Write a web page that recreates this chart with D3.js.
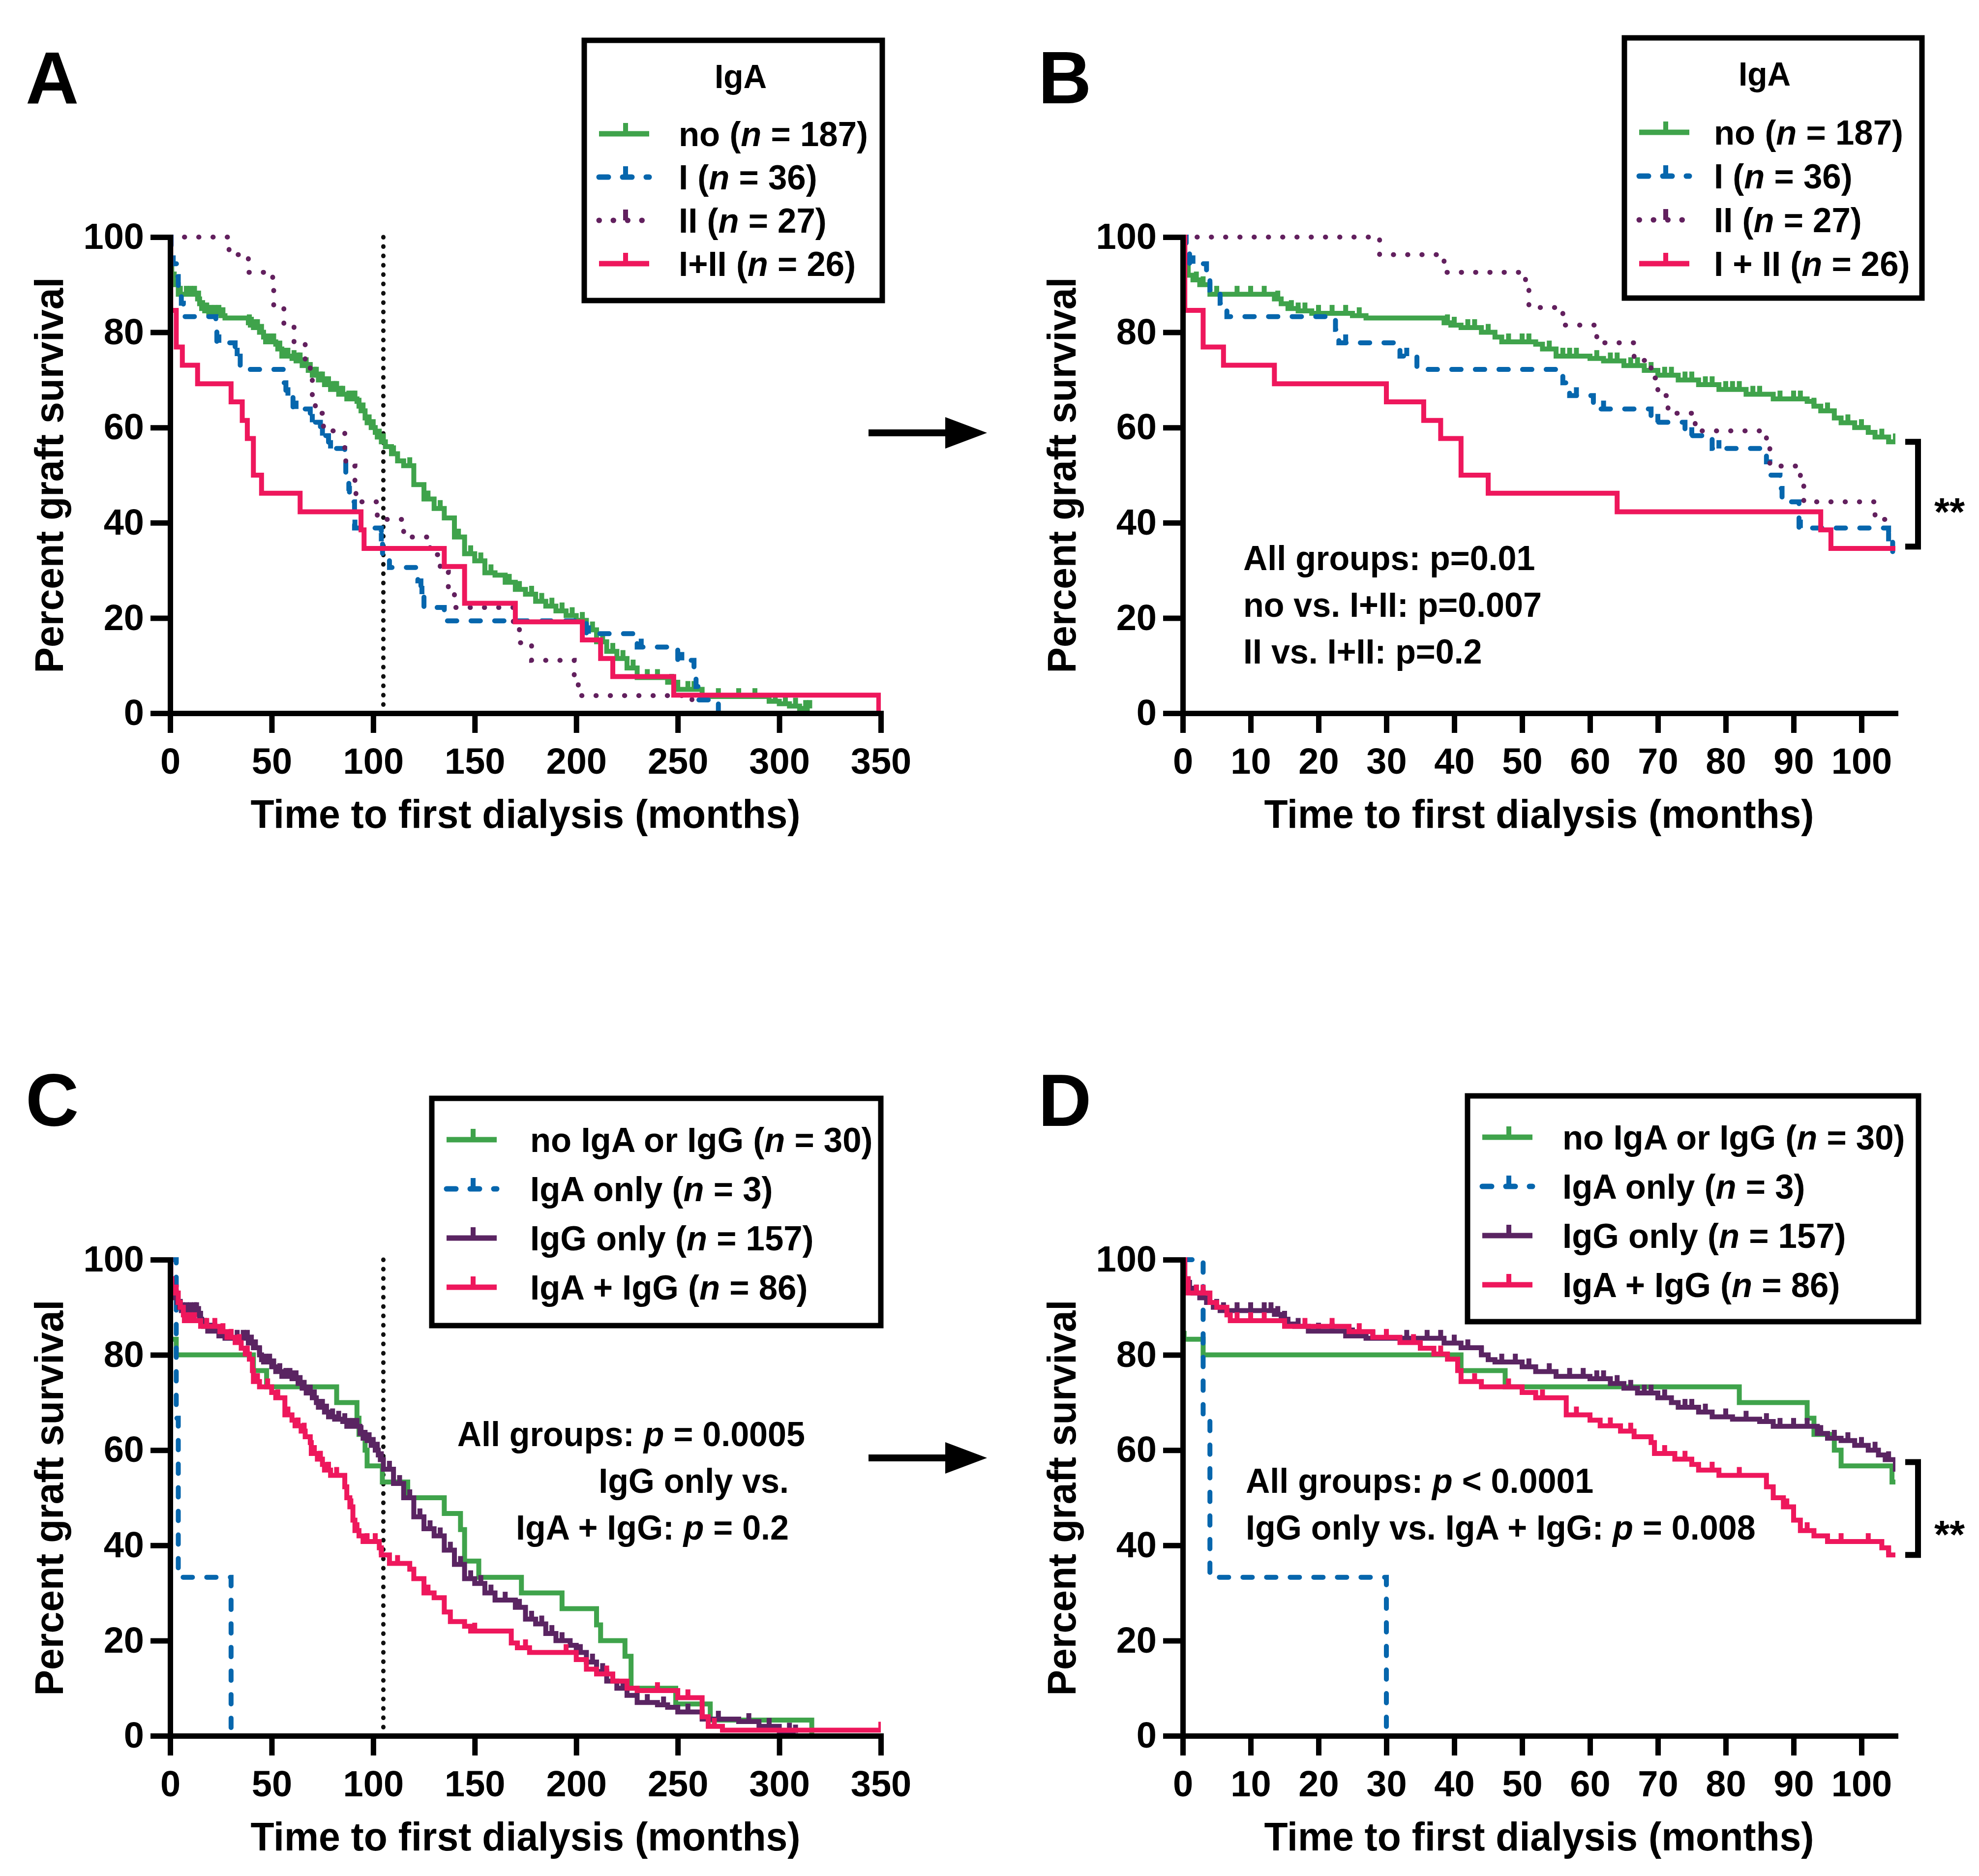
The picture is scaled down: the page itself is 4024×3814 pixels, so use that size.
<!DOCTYPE html>
<html>
<head>
<meta charset="utf-8">
<title>Graft survival by IgA / IgG</title>
<script src="https://d3js.org/d3.v7.min.js"></script>
<style>
  body { margin: 0; background: #fff; }
  text { font-family: "Liberation Sans", Arial, sans-serif; font-weight: bold; white-space: pre; }
</style>
</head>
<body>
<script>

var W = 4024, H = 3814;

// ---- data: step times (months) and percent surviving after each step ----
// panels A/B, IgA deposits
var noT = [0, 0.3, 0.8, 1.5, 2.5, 4, 13.5, 14.5, 15.5, 17, 19, 25, 27, 38.5, 39.5, 41, 44, 46, 47, 52, 53, 55, 60, 62, 65, 68, 70, 73, 76, 79, 83, 87, 92, 93, 94, 96, 97, 99, 101, 102, 104, 106, 109, 112, 115, 120, 125, 130, 135, 140, 145, 150, 155, 160, 165, 170, 175, 180, 185, 190, 195, 200, 205, 210, 215, 220, 225, 230, 245, 250, 262, 295, 300, 305, 310, 315];
var noS = [100, 94, 92, 91, 90, 88, 87, 86, 85, 84.5, 84, 83.5, 83, 82, 81.5, 81, 80, 79, 78, 77.5, 76.5, 75, 74.5, 74, 73, 72, 71, 70, 69, 68, 67, 66, 65.5, 64.5, 63.5, 62, 61, 60, 59, 58, 57, 56, 54.5, 53, 52, 48, 45, 43, 41, 37, 33.5, 32, 29.5, 29, 27.5, 26, 25, 23.5, 22.5, 21.5, 20.5, 19.5, 17.5, 15, 13, 11.5, 9.5, 7.5, 6.5, 5, 3.5, 2.5, 2, 1.5, 1, 1];
var noCens = [2, 3, 5, 8, 10, 12, 14, 16, 17, 18, 20, 22, 24, 26, 39, 40, 42, 43, 45, 48, 50, 51, 54, 56, 57, 58, 61, 63, 64, 66, 67, 69, 71, 72, 74, 75, 77, 78, 80, 81, 82, 84, 85, 88, 90, 91, 93, 95, 98, 100, 103, 105, 110, 118, 127, 133, 142, 148, 153, 158, 167, 172, 178, 183, 188, 193, 198, 203, 208, 213, 218, 223, 228, 235, 240, 247, 255, 258, 270, 280, 288, 298, 303, 308, 313, 315];

var iT = [0, 0.5, 1, 3.5, 4, 5.5, 6.5, 22.5, 23, 32, 34.5, 56, 57, 60.5, 69, 74, 78, 86, 86.5, 88, 88.3, 90.8, 104, 104.6, 108, 122, 123.5, 125, 135, 205, 230, 250, 258, 259, 260, 270];
var iS = [100, 97.2, 94.4, 91.7, 88.9, 86.1, 83.3, 80.6, 77.8, 75, 72.2, 69.4, 66.7, 63.9, 61.1, 58.3, 55.6, 52.8, 50, 47.2, 44.4, 38.9, 36.1, 33.3, 30.6, 27.8, 25, 22.2, 19.4, 16.7, 13.9, 11.1, 8.3, 5.6, 2.8, 0];
var iCens = [1.5, 24, 33, 58, 62, 70, 75, 79, 91, 104, 124, 206, 232, 252];

var iiT = [0, 29, 38.5, 50.5, 51, 56, 61, 66.5, 69, 70, 71.5, 75.5, 86, 86.5, 91, 91.5, 102, 115, 128, 133, 137, 140, 169, 172, 178, 199, 201, 257];
var iiS = [100, 96.3, 92.6, 88.9, 85.2, 81.5, 77.8, 74.1, 70.4, 66.7, 63, 59.3, 55.6, 51.9, 48.1, 44.4, 40.7, 37, 33.3, 29.6, 25.9, 22.2, 18.5, 14.8, 11.1, 7.4, 3.7, 0];
var iiCens = [];

var i2T = [0, 0.3, 3, 6, 13.5, 30, 35.5, 38, 41, 45, 64, 94, 95.5, 135, 145, 170, 203, 212, 218, 248, 349, 349];
var i2S = [100, 84.6, 76.9, 73.1, 69.2, 65.4, 61.5, 57.7, 50, 46.2, 42.3, 38.5, 34.6, 30.8, 23.1, 19.2, 15.4, 11.5, 7.7, 3.8, 3.8, 0];
var i2Cens = [];

// panels C/D, IgA and IgG deposits
var nogT = [0, 0, 3, 41, 47.5, 82, 92, 93, 96, 97, 104.5, 117, 135, 143, 145, 152, 173, 193, 210, 212, 224, 227, 249, 266, 316, 316];
var nogS = [100, 83.3, 80, 76.7, 73.3, 70, 66.7, 63.3, 60, 56.7, 53.3, 50, 46.7, 43.3, 36.7, 33.3, 30, 26.7, 23.3, 20, 16.7, 10, 6.7, 3.3, 3.3, 0];
var nogCens = [0.2];

var aT = [0, 3, 4, 30];
var aS = [100, 66.7, 33.3, 0];
var aCens = [];

var gT = [0, 0.3, 0.8, 1.5, 2.5, 3.5, 4.5, 5.5, 13.5, 14.5, 15.5, 16.5, 18.5, 24, 27, 38.5, 41, 44, 45, 46, 50, 52, 55, 60, 63, 65, 67, 70, 72, 73, 76, 78, 81, 85, 87, 93.5, 95, 97, 99, 101, 102.5, 103.5, 105, 110, 115, 120, 125, 130, 135, 140, 145, 150, 155, 160, 170, 175, 180, 185, 190, 197, 200, 205, 210, 215, 220, 225, 230, 240, 245, 250, 262, 280, 290, 300, 308];
var gS = [100, 96, 94, 93, 92, 91, 90, 89.3, 88.5, 87.5, 86.5, 86, 85, 84, 83.5, 82.5, 81.5, 80, 79, 78.5, 77.5, 76.5, 75.5, 75, 74, 73, 72, 71, 70, 69, 68, 67, 66.5, 66, 65, 63.5, 62.5, 62, 61, 60, 59, 58, 56, 53, 50, 46, 43.5, 42, 39, 36, 33, 32, 30, 28.5, 27, 24.5, 23.5, 21.5, 20, 19, 17.5, 15.5, 13.5, 11.5, 10, 8.5, 7, 6.5, 6, 5, 3.5, 3, 2, 1, 0.6];
var gCens = [1, 2, 3, 5, 6, 8, 10, 12, 13, 14, 15, 17, 20, 22, 25, 28, 30, 33, 36, 38, 40, 42, 44, 47, 49, 51, 54, 57, 59, 61, 62, 64, 66, 68, 69, 71, 74, 75, 77, 80, 83, 86, 88, 90, 92, 94, 96, 98, 100, 102, 104, 108, 113, 118, 123, 128, 133, 138, 143, 148, 153, 158, 165, 172, 178, 183, 188, 193, 202, 208, 213, 218, 223, 235, 243, 255, 270, 285, 295, 305, 308];

var agT = [0, 0.3, 0.8, 4, 5, 6.5, 7, 15, 24.5, 28, 32, 35, 37, 39, 40.5, 41, 44, 50, 52, 56.5, 60, 61.5, 64.5, 66.5, 69, 69.5, 72.5, 75, 76, 79, 86, 87, 88.5, 90, 91, 93, 95, 103, 104, 108, 118, 120, 125, 130, 135, 138, 145, 148, 168, 171, 177, 200, 205, 210, 218, 225, 230, 250, 262, 265, 272, 350];
var agS = [100, 96, 93, 91, 90, 88.4, 87.2, 86, 84.9, 83.7, 82.6, 81.4, 80.2, 79.1, 76.7, 74.4, 73.3, 72.1, 71, 67.4, 66.3, 65.1, 64, 62.8, 61.6, 59.3, 58.1, 57, 55.8, 54.7, 52.3, 50, 48.1, 45.3, 43.1, 42, 40.8, 39.5, 38, 36.2, 35, 33, 30, 29, 26, 24, 23, 22, 19.5, 18.5, 17.5, 16, 14, 13, 11.5, 10, 9.5, 8, 4, 2, 1.2, 1.2];
var agCens = [2, 3, 8, 10, 12, 18, 22, 26, 30, 34, 38, 43, 48, 53, 58, 63, 66, 71, 74, 78, 82, 89, 92, 97, 101, 104, 112, 127, 150, 175, 195, 215, 240, 255, 268, 350];

var labelsAB = ['no', 'I', 'II', 'I+II'];
var labelsB = ['no', 'I', 'II', 'I + II'];
var labelsCD = ['no IgA or IgG', 'IgA only', 'IgG only', 'IgA + IgG'];
var nAB = [187, 36, 27, 26];
var nCD = [30, 3, 157, 86];

var xTicksLong = [0, 50, 100, 150, 200, 250, 300, 350];
var xTicksShort = [0, 10, 20, 30, 40, 50, 60, 70, 80, 90, 100];
var yTicks = [0, 20, 40, 60, 80, 100];

// ---- colours / styles ----
var GREEN = '#3fa34b', BLUE = '#0666ad', PLUM = '#62205e', PURPLE = '#5a2462', RED = '#ee175c';
var DASH = '19,29', DOT = '0.5,28.5';
var LW = 10;   // curve width
var AW = 11;   // axis width

var svg = d3.select('body').append('svg')
  .attr('width', W).attr('height', H)
  .attr('viewBox', '0 0 ' + W + ' ' + H);

var seriesAB = [
  {T: noT, S: noS, c: noCens, color: GREEN, dash: null},
  {T: iT, S: iS, c: iCens, color: BLUE, dash: DASH},
  {T: iiT, S: iiS, c: iiCens, color: PLUM, dash: DOT},
  {T: i2T, S: i2S, c: i2Cens, color: RED, dash: null}
];
var seriesCD = [
  {T: nogT, S: nogS, c: nogCens, color: GREEN, dash: null},
  {T: aT, S: aS, c: aCens, color: BLUE, dash: DASH},
  {T: gT, S: gS, c: gCens, color: PURPLE, dash: null},
  {T: agT, S: agS, c: agCens, color: RED, dash: null}
];

// text helper: parts are strings or [string, italic]
function label(g, x, y, size, anchor, parts, opt) {
  opt = opt || {};
  var sx = opt.sx || 1;
  var t = g.append('text')
    .attr('transform', 'translate(' + x + ',' + y + ')' + (opt.rot ? ' rotate(-90)' : '') + ' scale(' + sx + ',1)')
    .attr('text-anchor', anchor)
    .attr('font-size', size);
  if (opt.weight) t.attr('font-weight', opt.weight);
  parts.forEach(function(p) {
    if (typeof p === 'string') p = [p, false];
    t.append('tspan').text(p[0]).attr('font-style', p[1] ? 'italic' : null);
  });
  return t;
}

function survAt(T, S, t) {
  var s = S[0];
  for (var i = 0; i < T.length; i++) { if (T[i] <= t) s = S[i]; }
  return s;
}

function styleDash(sel, dash) {
  sel.attr('stroke-dasharray', dash);
  if (dash) sel.attr('stroke-linecap', 'round');
  return sel;
}

function panel(p) {
  var g = svg.append('g');
  var x = d3.scaleLinear().domain([0, p.xmax]).range([p.left, p.right]);
  var y = d3.scaleLinear().domain([0, 100]).range([p.bottom, p.top]);

  var clipId = 'clip' + p.name;
  svg.append('clipPath').attr('id', clipId).append('rect')
    .attr('x', p.left - 20).attr('y', p.top - 40)
    .attr('width', x(p.xmax) - p.left + 20).attr('height', p.bottom - p.top + 45);

  var plot = g.append('g').attr('clip-path', 'url(#' + clipId + ')');

  if (p.cut) {
    plot.append('line')
      .attr('x1', x(p.cut)).attr('x2', x(p.cut))
      .attr('y1', y(100)).attr('y2', y(0))
      .attr('stroke', '#111').attr('stroke-width', 9)
      .attr('stroke-linecap', 'round')
      .attr('stroke-dasharray', '0.5,18.5');
  }

  var line = d3.line()
    .x(function(d) { return x(d[0]); })
    .y(function(d) { return y(d[1]); })
    .curve(d3.curveStepAfter);

  p.series.forEach(function(s) {
    var pts = s.T.map(function(t, i) { return [t, s.S[i]]; });
    var path = plot.append('path')
      .attr('d', line(pts))
      .attr('fill', 'none')
      .attr('stroke', s.color)
      .attr('stroke-width', LW);
    styleDash(path, s.dash);
    plot.selectAll(null).data(s.c).enter().append('line')
      .attr('x1', function(t) { return x(t); })
      .attr('x2', function(t) { return x(t); })
      .attr('y1', function(t) { return y(survAt(s.T, s.S, t)); })
      .attr('y2', function(t) { return y(survAt(s.T, s.S, t)) - 17; })
      .attr('stroke', s.color)
      .attr('stroke-width', 10);
  });

  // axes
  var xa = g.append('g').attr('transform', 'translate(0,' + p.bottom + ')')
    .call(d3.axisBottom(x).tickValues(p.xticks).tickSize(40).tickSizeOuter(0).tickPadding(30));
  var ya = g.append('g').attr('transform', 'translate(' + p.left + ',0)')
    .call(d3.axisLeft(y).tickValues(yTicks).tickSize(40).tickSizeOuter(0).tickPadding(13));
  [xa, ya].forEach(function(a) {
    a.select('.domain').attr('stroke', '#000').attr('stroke-width', AW).attr('stroke-linecap', 'square');
    a.selectAll('.tick line').attr('stroke', '#000').attr('stroke-width', AW);
    a.selectAll('.tick text').attr('font-size', 74).attr('fill', '#000')
      .attr('font-family', '"Liberation Sans", Arial, sans-serif').attr('font-weight', 'bold');
  });

  label(g, (p.left + p.right) / 2, p.bottom + 233, 82, 'middle', ['Time to first dialysis (months)'], {sx: 0.96});
  label(g, p.left - 218, (p.top + p.bottom) / 2, 82, 'middle', ['Percent graft survival'], {rot: true, sx: 0.96});
  label(g, p.left - 294, p.top - 272, 150, 'start', [p.name]);

  // legend
  var L = p.legend;
  var lg = g.append('g');
  lg.append('rect').attr('x', L.x).attr('y', L.y).attr('width', L.w).attr('height', L.h)
    .attr('fill', '#fff').attr('stroke', '#000').attr('stroke-width', AW);
  if (L.title) label(lg, L.x + L.titleDx, L.y + 97, 68, 'middle', [L.title], {sx: 0.97});
  p.series.forEach(function(s, i) {
    var cy = L.y + L.row0 + i * L.step;
    var sample = lg.append('line').attr('x1', L.x + 30).attr('x2', L.x + 132).attr('y1', cy).attr('y2', cy)
      .attr('stroke', s.color).attr('stroke-width', LW + 1);
    styleDash(sample, s.dash);
    lg.append('line').attr('x1', L.x + 84).attr('x2', L.x + 84).attr('y1', cy).attr('y2', cy - 22)
      .attr('stroke', s.color).attr('stroke-width', 10);
    label(lg, L.x + L.textDx, cy + 25, 70, 'start',
      [L.labels[i] + ' (', ['n', true], ' = ' + L.n[i] + ')'], {sx: 0.985});
  });

  return {g: g, x: x, y: y};
}

var pA = panel({name: 'A', left: 346, right: 1791, top: 482, bottom: 1450, xmax: 350, xticks: xTicksLong,
  cut: 105, series: seriesAB,
  legend: {x: 1188, y: 82, w: 606, h: 529, title: 'IgA', titleDx: 318, row0: 190, step: 88, textDx: 192,
    labels: labelsAB, n: nAB}});
var pB = panel({name: 'B', left: 2405, right: 3854, top: 482, bottom: 1450, xmax: 105, xticks: xTicksShort,
  series: seriesAB,
  legend: {x: 3303, y: 77, w: 605, h: 529, title: 'IgA', titleDx: 285, row0: 192, step: 89, textDx: 182,
    labels: labelsB, n: nAB}});
var pC = panel({name: 'C', left: 346, right: 1791, top: 2561, bottom: 3529, xmax: 350, xticks: xTicksLong,
  cut: 105, series: seriesCD,
  legend: {x: 878, y: 2233, w: 913, h: 462, row0: 84, step: 100, textDx: 200,
    labels: labelsCD, n: nCD}});
var pD = panel({name: 'D', left: 2405, right: 3854, top: 2561, bottom: 3529, xmax: 105, xticks: xTicksShort,
  series: seriesCD,
  legend: {x: 2984, y: 2228, w: 917, h: 459, row0: 84, step: 100, textDx: 193,
    labels: labelsCD, n: nCD}});

// statistics text
var ST = {sx: 0.975};
label(svg, 2528, 1159, 70, 'start', ['All groups: p=0.01'], ST);
label(svg, 2528, 1254, 70, 'start', ['no vs. I+II: p=0.007'], ST);
label(svg, 2528, 1349, 70, 'start', ['II vs. I+II: p=0.2'], ST);

label(svg, 1637, 2940, 70, 'end', ['All groups: ', ['p', true], ' = 0.0005'], ST);
label(svg, 1604, 3035, 70, 'end', ['IgG only vs.'], ST);
label(svg, 1604, 3130, 70, 'end', ['IgA + IgG: ', ['p', true], ' = 0.2'], ST);

label(svg, 2533, 3035, 70, 'start', ['All groups: ', ['p', true], ' < 0.0001'], ST);
label(svg, 2533, 3130, 70, 'start', ['IgG only vs. IgA + IgG: ', ['p', true], ' = 0.008'], ST);

// significance brackets
function bracket(p, s1, s2, yStar) {
  var bx = p.x(105) + 46;
  var y1 = p.y(s1), y2 = p.y(s2);
  svg.append('path')
    .attr('d', 'M' + (bx - 26) + ',' + y1 + 'H' + bx + 'V' + y2 + 'H' + (bx - 26))
    .attr('fill', 'none').attr('stroke', '#000').attr('stroke-width', 12);
  label(svg, bx + 64, yStar, 80, 'middle', ['**'], {weight: 'normal'});
}
bracket(pB, 57, 35, 1068);
bracket(pD, 57.5, 38, 3147);

// arrows between panels
function arrow(yc) {
  svg.append('line').attr('x1', 1766).attr('x2', 1935).attr('y1', yc).attr('y2', yc)
    .attr('stroke', '#000').attr('stroke-width', 14);
  svg.append('path')
    .attr('d', 'M1922,' + (yc - 32) + 'L2007,' + yc + 'L1922,' + (yc + 32) + 'Z')
    .attr('fill', '#000');
}
arrow(880);
arrow(2964);

</script>
</body>
</html>
